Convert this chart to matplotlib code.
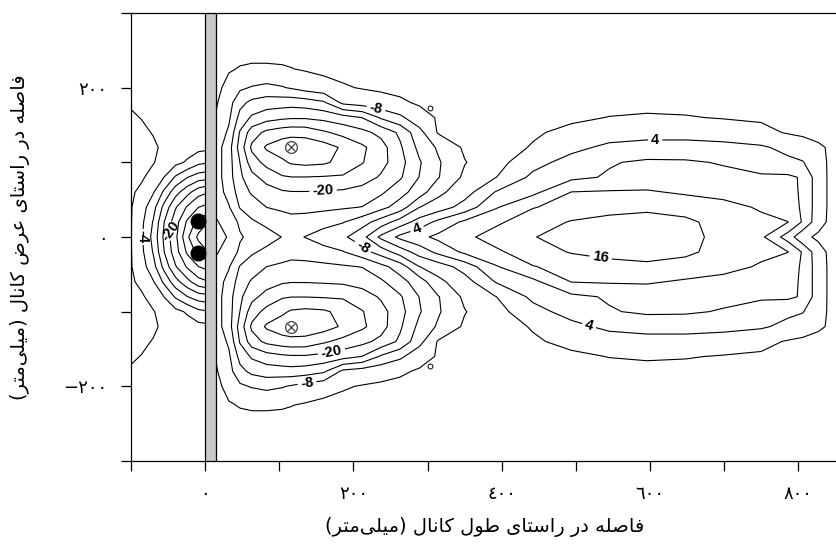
# bed level contours around the plate (scour / deposition, mm)
import numpy as np
import matplotlib
matplotlib.use('Agg')
import matplotlib.pyplot as plt
from matplotlib.patches import Rectangle

plt.rcParams['font.family'] = ['Liberation Sans', 'DejaVu Sans']
plt.rcParams['axes.unicode_minus'] = False
plt.rcParams['contour.negative_linestyle'] = 'solid'

# contour levels
LEVELS = list(range(-36, 17, 4))

# upstream of the plate, rows for y >= 0 (mirrored about the centre line)
up_x = [-101, -86, -70, -55, -40, -24, -9, 0]
up_y = [0, 20, 40, 60, 80, 100, 120, 150, 180, 220, 300]
up_z = [
    [0.4, -3.4, -9.3, -17.0, -23.0, -31.3, -36.9, -40.0],
    [0.4, -3.0, -8.3, -16.1, -22.3, -28.7, -33.5, -34.8],
    [0.4, -2.2, -6.5, -13.4, -19.6, -24.5, -27.9, -28.8],
    [0.6, -0.8, -3.7, -8.9, -14.4, -18.7, -22.5, -23.4],
    [0.8, 0.5, -1.3, -4.1, -8.5, -11.9, -14.0, -14.4],
    [1.0, 0.8, 0.2, -1.3, -2.9, -4.5, -7.0, -7.5],
    [1.0, 0.9, 0.4, -0.5, -1.5, -2.3, -2.8, -3.0],
    [0.8, 0.2, -0.4, -0.9, -1.4, -1.8, -2.1, -2.2],
    [-0.3, -0.6, -0.9, -1.2, -1.4, -1.6, -1.8, -1.9],
    [-1.0, -1.1, -1.3, -1.4, -1.5, -1.6, -1.7, -1.7],
    [-1.2, -1.3, -1.4, -1.5, -1.6, -1.6, -1.7, -1.7],
]

# downstream of the plate, rows for y >= 0
dn_x = [14, 32, 47, 63, 83, 104, 116, 135, 160, 186, 212, 237, 263, 289, 314,
        350, 391, 442, 494, 545, 596, 648, 699, 750, 786, 806, 827, 842, 858]
dn_y = [0, 20, 40, 60, 80, 100, 120, 140, 160, 180, 200, 225, 250, 300]
dn_z = [
    [-3.0, -4.2, -7.6, -9.0, -10.5, -12.1, -13.0, -11.9, -10.4, -8.8, -5.3, 0.9, 5.0, 7.0, 8.9,
     11.2, 13.4, 15.9, 16.9, 17.9, 18.3, 16.8, 15.2, 12.8, 6.2, 1.0, -0.7, -1.3, -2.0],
    [-3.5, -5.7, -8.7, -11.5, -12.9, -14.0, -14.6, -14.3, -13.2, -12.2, -9.6, -6.2, -2.1, 1.7, 5.0,
     8.8, 11.3, 14.0, 16.3, 17.2, 17.5, 16.6, 14.9, 13.2, 12.1, 7.6, 1.5, -0.6, -1.5],
    [-5.0, -7.7, -12.3, -13.9, -16.05, -16.8, -17.2, -17.2, -17.0, -16.5, -15.9, -13.3, -10.2, -4.1, -2.2,
     1.6, 7.5, 11.8, 13.3, 14.6, 15.2, 14.8, 13.7, 11.4, 9.4, 7.6, 1.8, -0.5, -1.5],
    [-6.0, -9.3, -13.9, -16.5, -18.3, -19.5, -19.8, -19.8, -19.6, -19.3, -18.3, -16.7, -13.4, -10.0, -5.0,
     -1.7, 4.1, 7.0, 12.1, 12.4, 12.5, 11.4, 10.3, 9.2, 8.9, 7.6, 1.8, -0.5, -1.5],
    [-6.0, -10.3, -15.2, -18.8, -21.5, -23.6, -23.9, -23.9, -23.7, -23.5, -22.0, -19.5, -16.5, -11.9, -8.3,
     -3.2, -0.2, 4.9, 7.1, 8.4, 9.2, 9.3, 9.0, 8.6, 8.7, 7.6, 1.8, -0.5, -1.5],
    [-6.0, -10.3, -16.05, -22.1, -25.3, -27.2, -28.5, -29.0, -28.6, -26.8, -24.2, -21.5, -17.4, -12.4, -8.5,
     -4.2, -1.5, 2.6, 5.5, 7.7, 8.6, 8.5, 7.7, 6.0, 4.8, 4.2, 1.6, -0.5, -1.5],
    [-6.0, -10.3, -17.7, -24.8, -28.6, -30.4, -31.0, -30.7, -29.8, -27.4, -24.7, -21.7, -16.6, -10.9, -7.5,
     -3.4, -1.8, 0.3, 2.9, 4.9, 5.5, 5.5, 5.2, 4.5, 3.0, 2.1, 0.5, -0.3, -1.3],
    [-5.0, -8.7, -16.4, -22.1, -25.0, -26.2, -26.6, -26.5, -24.6, -22.7, -21.1, -18.9, -15.2, -9.3, -3.7,
     -2.8, -1.8, -0.5, 1.0, 2.0, 2.5, 2.5, 2.0, 1.0, -0.3, -0.8, -1.0, -1.1, -1.5],
    [-4.1, -7.3, -13.3, -16.6, -18.3, -19.2, -19.5, -19.5, -18.8, -17.6, -15.9, -11.5, -8.8, -5.4, -3.7,
     -3.1, -2.4, -1.4, -0.7, 0.1, 0.4, 0.2, -0.2, -0.5, -0.8, -1.0, -1.1, -1.2, -1.5],
    [-3.5, -6.5, -10.8, -13.0, -14.0, -14.2, -14.4, -14.0, -12.6, -7.0, -6.0, -5.2, -4.5, -3.6, -3.2,
     -2.9, -2.5, -2.0, -1.6, -1.2, -1.0, -1.0, -1.1, -1.2, -1.3, -1.3, -1.4, -1.4, -1.6],
    [-3.0, -5.1, -7.3, -8.3, -9.0, -8.3, -7.6, -6.3, -5.2, -4.3, -3.8, -3.5, -3.2, -3.0, -2.8,
     -2.6, -2.4, -2.2, -2.0, -1.7, -1.5, -1.5, -1.5, -1.5, -1.5, -1.5, -1.5, -1.5, -1.7],
    [-3.0, -3.7, -4.2, -4.4, -4.4, -4.3, -4.1, -3.7, -3.3, -3.1, -2.9, -2.8, -2.6, -2.5, -2.4,
     -2.3, -2.2, -2.1, -2.0, -1.9, -1.8, -1.8, -1.8, -1.8, -1.8, -1.8, -1.8, -1.8, -1.8],
    [-2.6, -2.8, -3.0, -3.1, -3.1, -3.0, -2.9, -2.8, -2.6, -2.5, -2.4, -2.3, -2.2, -2.1, -2.0,
     -2.0, -1.9, -1.9, -1.8, -1.8, -1.7, -1.7, -1.7, -1.7, -1.7, -1.7, -1.7, -1.7, -1.7],
    [-2.3, -2.4, -2.5, -2.5, -2.5, -2.5, -2.4, -2.4, -2.3, -2.3, -2.2, -2.2, -2.1, -2.1, -2.0,
     -2.0, -1.9, -1.9, -1.9, -1.8, -1.8, -1.8, -1.8, -1.8, -1.8, -1.8, -1.8, -1.8, -1.8],
]

# where the contour values are written
up_labels = {-4: [(-86, 3)], -20: [(-46, 3)]}
dn_labels = {-8: [(228, 161), (203, -28), (136, -185)],
             -20: [(159, 65), (169, -147)],
             4: [(283, 19), (607, 133), (517, -122)],
             16: [(534, -24)]}

# plate, jets and points
plate_x = [0, 14]
jet_x = [-9, -9]
jet_y = [22, -22]
probe_x = [116, 116]
probe_y = [120, -120]
end_x = [303, 303]
end_y = [173, -173]

x_ticks = [-100, 0, 100, 200, 300, 400, 500, 600, 700, 800]
x_labeled = [0, 200, 400, 600, 800]
y_ticks = [-300, -200, -100, 0, 100, 200, 300]
y_labeled = [-200, 0, 200]

xlabel_txt = 'فاصله در راستای طول کانال (میلی\u200cمتر)'
ylabel_txt = 'فاصله در راستای عرض کانال (میلی\u200cمتر)'

# arabic letter forms: isolated, final, initial, medial
FORMS = {
    'ا': ('\uFE8D', '\uFE8E', None, None),
    'د': ('\uFEA9', '\uFEAA', None, None),
    'ر': ('\uFEAD', '\uFEAE', None, None),
    'و': ('\uFEED', '\uFEEE', None, None),
    'ف': ('\uFED1', '\uFED2', '\uFED3', '\uFED4'),
    'ص': ('\uFEB9', '\uFEBA', '\uFEBB', '\uFEBC'),
    'ض': ('\uFEBD', '\uFEBE', '\uFEBF', '\uFEC0'),
    'ط': ('\uFEC1', '\uFEC2', '\uFEC3', '\uFEC4'),
    'ع': ('\uFEC9', '\uFECA', '\uFECB', '\uFECC'),
    'ل': ('\uFEDD', '\uFEDE', '\uFEDF', '\uFEE0'),
    'م': ('\uFEE1', '\uFEE2', '\uFEE3', '\uFEE4'),
    'ن': ('\uFEE5', '\uFEE6', '\uFEE7', '\uFEE8'),
    'ه': ('\uFEE9', '\uFEEA', '\uFEEB', '\uFEEC'),
    'س': ('\uFEB1', '\uFEB2', '\uFEB3', '\uFEB4'),
    'ت': ('\uFE95', '\uFE96', '\uFE97', '\uFE98'),
    'ی': ('\uFBFC', '\uFBFD', '\uFBFE', '\uFBFF'),
    'ک': ('\uFB8E', '\uFB8F', '\uFB90', '\uFB91'),
}


def shape_rtl(s):
    # join letters and flip to visual order (Agg does no shaping)
    out = []
    for i, ch in enumerate(s):
        if ch not in FORMS:
            if ch != '\u200c':
                out.append(ch)
            continue
        prev = s[i - 1] if i > 0 else ''
        nxt = s[i + 1] if i + 1 < len(s) else ''
        jp = prev in FORMS and FORMS[prev][2] is not None
        jn = FORMS[ch][2] is not None and nxt in FORMS
        iso, fin, ini, med = FORMS[ch]
        if jp and jn:
            out.append(med)
        elif jp:
            out.append(fin)
        elif jn:
            out.append(ini)
        else:
            out.append(iso)
    return ''.join(reversed(out)).translate(str.maketrans('()', ')('))


def ar_num(v):
    s = str(abs(int(v))).translate(str.maketrans('0123456789', '٠١٢٣٤٥٦٧٨٩'))
    return ('\u2212' if v < 0 else '') + s


def mirror(ys, zs):
    ys = np.array(ys, dtype=float)
    zs = np.array(zs, dtype=float)
    return np.concatenate([-ys[:0:-1], ys]), np.vstack([zs[:0:-1], zs])


def draw_region(ax, xs, ys, zs, labels):
    # unlabeled levels in one go, labeled ones one by one (manual clabel needs that)
    plain = [lv for lv in LEVELS if lv not in labels]
    ax.contour(xs, ys, zs, levels=plain, colors='black', linewidths=0.8)
    texts = []
    for lv, spots in labels.items():
        cs = ax.contour(xs, ys, zs, levels=[lv], colors='black', linewidths=0.8)
        texts += cs.clabel(manual=spots, fmt=lambda v: '%d' % v, fontsize=10.5, inline_spacing=3)
    for t in texts:
        t.set_fontweight('bold')


fig = plt.figure(figsize=(8.36, 5.44), dpi=100)
ax = fig.add_axes([131 / 836, 83 / 544, 705 / 836, 448 / 544])

uy, uz = mirror(up_y, up_z)
dy, dz = mirror(dn_y, dn_z)
draw_region(ax, up_x, uy, uz, up_labels)
draw_region(ax, dn_x, dy, dz, dn_labels)

ax.add_patch(Rectangle((plate_x[0], -300), plate_x[1] - plate_x[0], 600,
                       facecolor='#c8c8c8', edgecolor='black', linewidth=0.9, zorder=3))
ax.plot(jet_x, jet_y, 'o', ms=10.5, color='black', zorder=4)
ax.plot(probe_x, probe_y, 'o', ms=8.5, mfc='none', mec='#444444', mew=0.9, zorder=4)
ax.plot(probe_x, probe_y, 'x', ms=5.5, mec='#444444', mew=0.9, zorder=4)
ax.plot(end_x, end_y, 'o', ms=3.5, mfc='white', mec='black', mew=0.7, zorder=4)

ax.set_xlim(-100, 851)
ax.set_ylim(-300, 300)
ax.spines['right'].set_visible(False)
for s in ['left', 'top', 'bottom']:
    ax.spines[s].set_linewidth(0.9)

ax.set_xticks(x_ticks)
ax.set_xticklabels([ar_num(v) if v in x_labeled else '' for v in x_ticks],
                   fontfamily='DejaVu Sans', fontsize=13)
ax.set_yticks(y_ticks)
ax.set_yticklabels([ar_num(v) if v in y_labeled else '' for v in y_ticks],
                   fontfamily='DejaVu Sans', fontsize=13)
ax.tick_params(direction='out', length=7, width=0.9, pad=10)

ax.set_xlabel(shape_rtl(xlabel_txt), fontfamily='DejaVu Sans', fontsize=14, va='center')
ax.set_ylabel(shape_rtl(ylabel_txt), fontfamily='DejaVu Sans', fontsize=14, va='center')
ax.xaxis.set_label_coords(0.502, -0.147)
ax.yaxis.set_label_coords(-0.157, 0.5)

fig.savefig('out.png', dpi=100)
